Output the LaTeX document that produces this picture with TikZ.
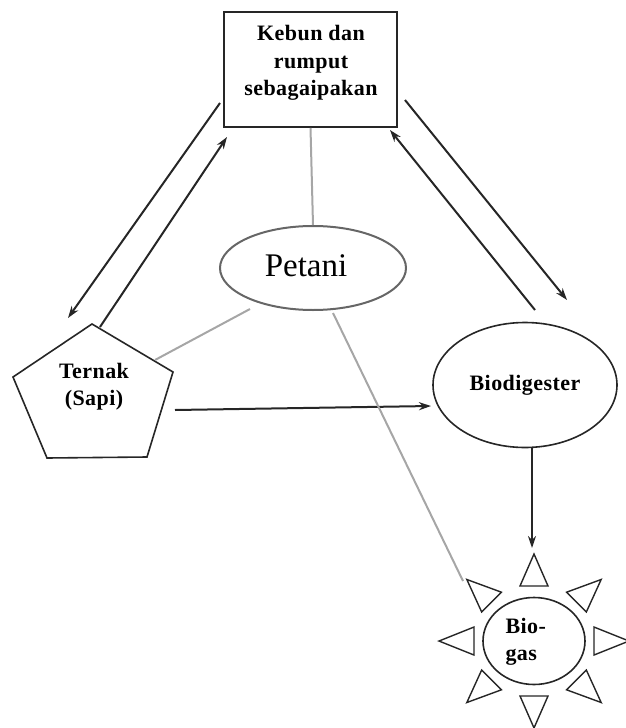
\documentclass[tikz,border=0pt]{standalone}
\usepackage{fontspec}
\setmainfont{Liberation Serif}
\newfontfamily\lblfont[LetterSpace=2]{Liberation Serif}
\usetikzlibrary{shapes.geometric,arrows.meta,calc}
\tikzset{
  darkline/.style={draw=black!85,line width=2pt},
  arr/.style={darkline,-{Stealth[length=12pt,width=8pt]}},
  grayline/.style={draw=black!35,line width=2pt},
  boldlbl/.style={font=\lblfont\bfseries\fontsize{22}{27.5}\selectfont,align=center},
  raytri/.style={draw=black!85,line width=1.4pt,fill=white},
}
\begin{document}
\begin{tikzpicture}[x=1pt,y=-1pt]
\useasboundingbox (0,0) rectangle (626,728);
% nodes
\node[darkline,line width=1.8pt,rectangle,minimum width=173pt,minimum height=115pt,inner sep=0pt] (box) at (310.5,69.5) {};
\node[boldlbl] (boxtext) at (311,63) {Kebun dan\\rumput\\sebagaipakan};
\node[draw=black!60,line width=2pt,ellipse,minimum width=186pt,minimum height=84pt,inner sep=0pt] (petani) at (313,268) {};
\node[font=\fontsize{33}{36}\selectfont,inner sep=0pt] (petanitext) at (306,266) {Petani};
\coordinate (p1) at (92,324);
\coordinate (p2) at (173,372);
\coordinate (p3) at (147,457);
\coordinate (p4) at (47,458);
\coordinate (p5) at (13,377);
\draw[darkline,line width=1.6pt,line join=miter] (p1) -- (p2) -- (p3) -- (p4) -- (p5) -- cycle;
\node[boldlbl] (ternak) at (94,386.5) {Ternak\\(Sapi)};
\node[darkline,line width=1.6pt,ellipse,minimum width=184pt,minimum height=125pt,inner sep=0pt,boldlbl] (bio) at (525,385) {Biodigester};
% biogas sun
\coordinate (bgc) at (534,641);
\foreach \a in {0,45,...,315}{
  \draw[raytri]
    ($(bgc)+({60*cos(\a)-14*sin(\a)},{55*sin(\a)+14*cos(\a)})$) --
    ($(bgc)+({95*cos(\a)},{87*sin(\a)})$) --
    ($(bgc)+({60*cos(\a)+14*sin(\a)},{55*sin(\a)-14*cos(\a)})$) -- cycle;
}
\node[darkline,line width=1.6pt,ellipse,minimum width=102pt,minimum height=87pt,inner sep=0pt] (biogas) at (bgc) {};
\node[boldlbl,align=left,anchor=west] (biogastext) at (502,642) {Bio-\\gas};
% connector end points
\coordinate (a1s) at (220,103);
\coordinate (a1e) at (68,318);
\coordinate (a2s) at (100,327);
\coordinate (a2e) at (227,137);
\coordinate (a3s) at (405,100);
\coordinate (a3e) at (567,300);
\coordinate (a4s) at (535,310);
\coordinate (a4e) at (390,130);
\coordinate (a5s) at (175,410);
\coordinate (a5e) at (431,406);
\coordinate (a6e) at (532,548);
\coordinate (g2s) at (155,360);
\coordinate (g2e) at (250,309);
\coordinate (g3s) at (333,313);
\coordinate (g3e) at (463,581);
% arrows
\draw[arr] (a1s) -- (a1e);
\draw[arr] (a2s) -- (a2e);
\draw[arr] (a3s) -- (a3e);
\draw[arr] (a4s) -- (a4e);
\draw[arr] (a5s) -- (a5e);
\draw[arr] (bio.south -| a6e) -- (a6e);
% gray links
\draw[grayline] (box.south) -- (petani.north);
\draw[grayline] (g2s) -- (g2e);
\draw[grayline] (g3s) -- (g3e);
\end{tikzpicture}
\end{document}
